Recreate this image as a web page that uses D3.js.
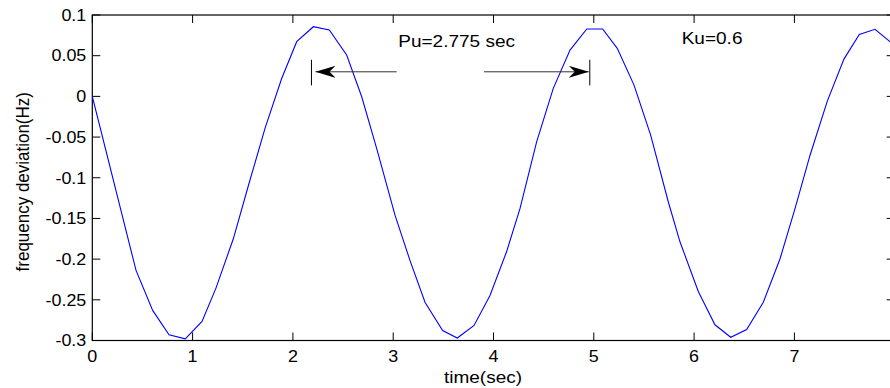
<!DOCTYPE html>
<html>
<head>
<meta charset="utf-8">
<script src="https://cdn.jsdelivr.net/npm/d3@7"></script>
<style>
  body { margin: 0; background: #fff; }
  svg { display: block; font-family: "Liberation Sans", Arial, sans-serif; }
</style>
</head>
<body>
<svg id="chart"></svg>
<script>
var time = [0, 0.436, 0.602, 0.765, 0.927, 1.094, 1.233, 1.406, 1.56, 1.725, 1.888, 2.038, 2.204, 2.363,
    2.536, 2.686, 2.835, 3.018, 3.167, 3.317, 3.493, 3.639, 3.806, 3.965, 4.13, 4.264, 4.43, 4.596,
    4.763, 4.93, 5.088, 5.234, 5.401, 5.567, 5.743, 5.86, 6.042, 6.208, 6.365, 6.524, 6.69, 6.857,
    7.006, 7.156, 7.328, 7.494, 7.647, 7.804, 7.953, 8.0];
var freqDev = [0, -0.2138, -0.263, -0.293, -0.298, -0.2766, -0.2356, -0.175, -0.108, -0.038, 0.022, 0.0672,
    0.0856, 0.0815, 0.0508, -0.0005, -0.064, -0.146, -0.2015, -0.253, -0.2877, -0.297, -0.2815, -0.2446,
    -0.191, -0.138, -0.056, 0.0098, 0.0569, 0.0828, 0.0828, 0.059, 0.0138, -0.0477, -0.1298, -0.179,
    -0.2397, -0.2807, -0.296, -0.2865, -0.253, -0.1995, -0.138, -0.0723, -0.0058, 0.0458, 0.0762,
    0.0824, 0.0672, 0.06];

var xTicks = [0, 1, 2, 3, 4, 5, 6, 7];
var yTicks = [0.1, 0.05, 0, -0.05, -0.1, -0.15, -0.2, -0.25, -0.3];
var yTickLabels = ["0.1", "0.05", "0", "-0.05", "-0.1", "-0.15", "-0.2", "-0.25", "-0.3"];

// period annotation (peak to peak)
var peakA = 2.185, period = 2.775;
var puLabel = "Pu=2.775 sec", kuLabel = "Ku=0.6";

var width = 890, height = 388;
var pLeft = 92.3, pRight = 894.7, pTop = 15, pBottom = 340.5;
var tickLen = 8, stretch = 1.12;

var svg = d3.select('#chart')
    .attr('width', width)
    .attr('height', height);

var x = d3.scaleLinear().domain([0, 8]).range([pLeft, pRight]);
var y = d3.scaleLinear().domain([-0.3, 0.1]).range([pBottom, pTop]);

// clip for the curve
svg.append('clipPath').attr('id', 'plotclip')
    .append('rect')
    .attr('x', pLeft).attr('y', pTop)
    .attr('width', pRight - pLeft).attr('height', pBottom - pTop);

// box
svg.append('rect')
    .attr('x', pLeft).attr('y', pTop)
    .attr('width', pRight - pLeft).attr('height', pBottom - pTop)
    .attr('fill', 'none')
    .attr('stroke', '#000')
    .attr('stroke-width', 1.2);

// inward ticks on all four sides
var ticks = svg.append('g').attr('stroke', '#000').attr('stroke-width', 1);
xTicks.forEach(function (t) {
    ticks.append('line').attr('x1', x(t)).attr('x2', x(t)).attr('y1', pBottom).attr('y2', pBottom - tickLen);
    ticks.append('line').attr('x1', x(t)).attr('x2', x(t)).attr('y1', pTop).attr('y2', pTop + tickLen);
});
yTicks.forEach(function (v) {
    ticks.append('line').attr('x1', pLeft).attr('x2', pLeft + tickLen).attr('y1', y(v)).attr('y2', y(v));
    ticks.append('line').attr('x1', pRight).attr('x2', pRight - tickLen).attr('y1', y(v)).attr('y2', y(v));
});

function label(px, py, str, size, anchor, rot) {
    return svg.append('text')
        .attr('transform', 'translate(' + px + ',' + py + ') scale(' + stretch + ',1)' + (rot ? ' rotate(' + rot + ')' : ''))
        .attr('text-anchor', anchor)
        .style('font-size', size + 'px')
        .attr('fill', '#000')
        .text(str);
}

// tick labels
xTicks.forEach(function (t) {
    label(x(t), 362, String(t), 16, 'middle');
});
yTicks.forEach(function (v, i) {
    label(pLeft - 6, y(v) + 5.8, yTickLabels[i], 16, 'end');
});

// axis titles
label(483, 383, 'time(sec)', 17, 'middle');
label(28.5, (pTop + pBottom) / 2 + 4, 'frequency deviation(Hz)', 17, 'middle', -90);

// curve
var line = d3.line()
    .x(function (d, i) { return x(time[i]); })
    .y(function (d) { return y(d); });

svg.append('path')
    .datum(freqDev)
    .attr('clip-path', 'url(#plotclip)')
    .attr('d', line)
    .attr('fill', 'none')
    .attr('stroke', '#0000ff')
    .attr('stroke-width', 1.1);

// Pu arrows
var arrowY = y(0.0302);
var defs = svg.append('defs');
defs.append('marker')
    .attr('id', 'head')
    .attr('viewBox', '0 0 20 12')
    .attr('refX', 20).attr('refY', 6)
    .attr('markerUnits', 'userSpaceOnUse')
    .attr('markerWidth', 20).attr('markerHeight', 12)
    .attr('orient', 'auto')
    .append('path')
    .attr('d', 'M0,0 L20,6 L0,12 L6,6 Z')
    .attr('fill', '#000');

var peakB = peakA + period;
var ann = svg.append('g');
[peakA, peakB].forEach(function (t) {
    ann.append('line')
        .attr('x1', x(t)).attr('x2', x(t))
        .attr('y1', y(0.045)).attr('y2', y(0.0135))
        .attr('stroke', '#000').attr('stroke-width', 1);
});
ann.append('line')
    .attr('x1', x(3.035)).attr('x2', x(peakA) + 4)
    .attr('y1', arrowY).attr('y2', arrowY)
    .attr('stroke', '#333').attr('stroke-width', 1)
    .attr('marker-end', 'url(#head)');
ann.append('line')
    .attr('x1', x(3.905)).attr('x2', x(peakB) - 1)
    .attr('y1', arrowY).attr('y2', arrowY)
    .attr('stroke', '#333').attr('stroke-width', 1)
    .attr('marker-end', 'url(#head)');

label(x(3.05), y(0.061), puLabel, 17, 'start');
label(x(5.876), y(0.0643), kuLabel, 17, 'start');
</script>
</body>
</html>
